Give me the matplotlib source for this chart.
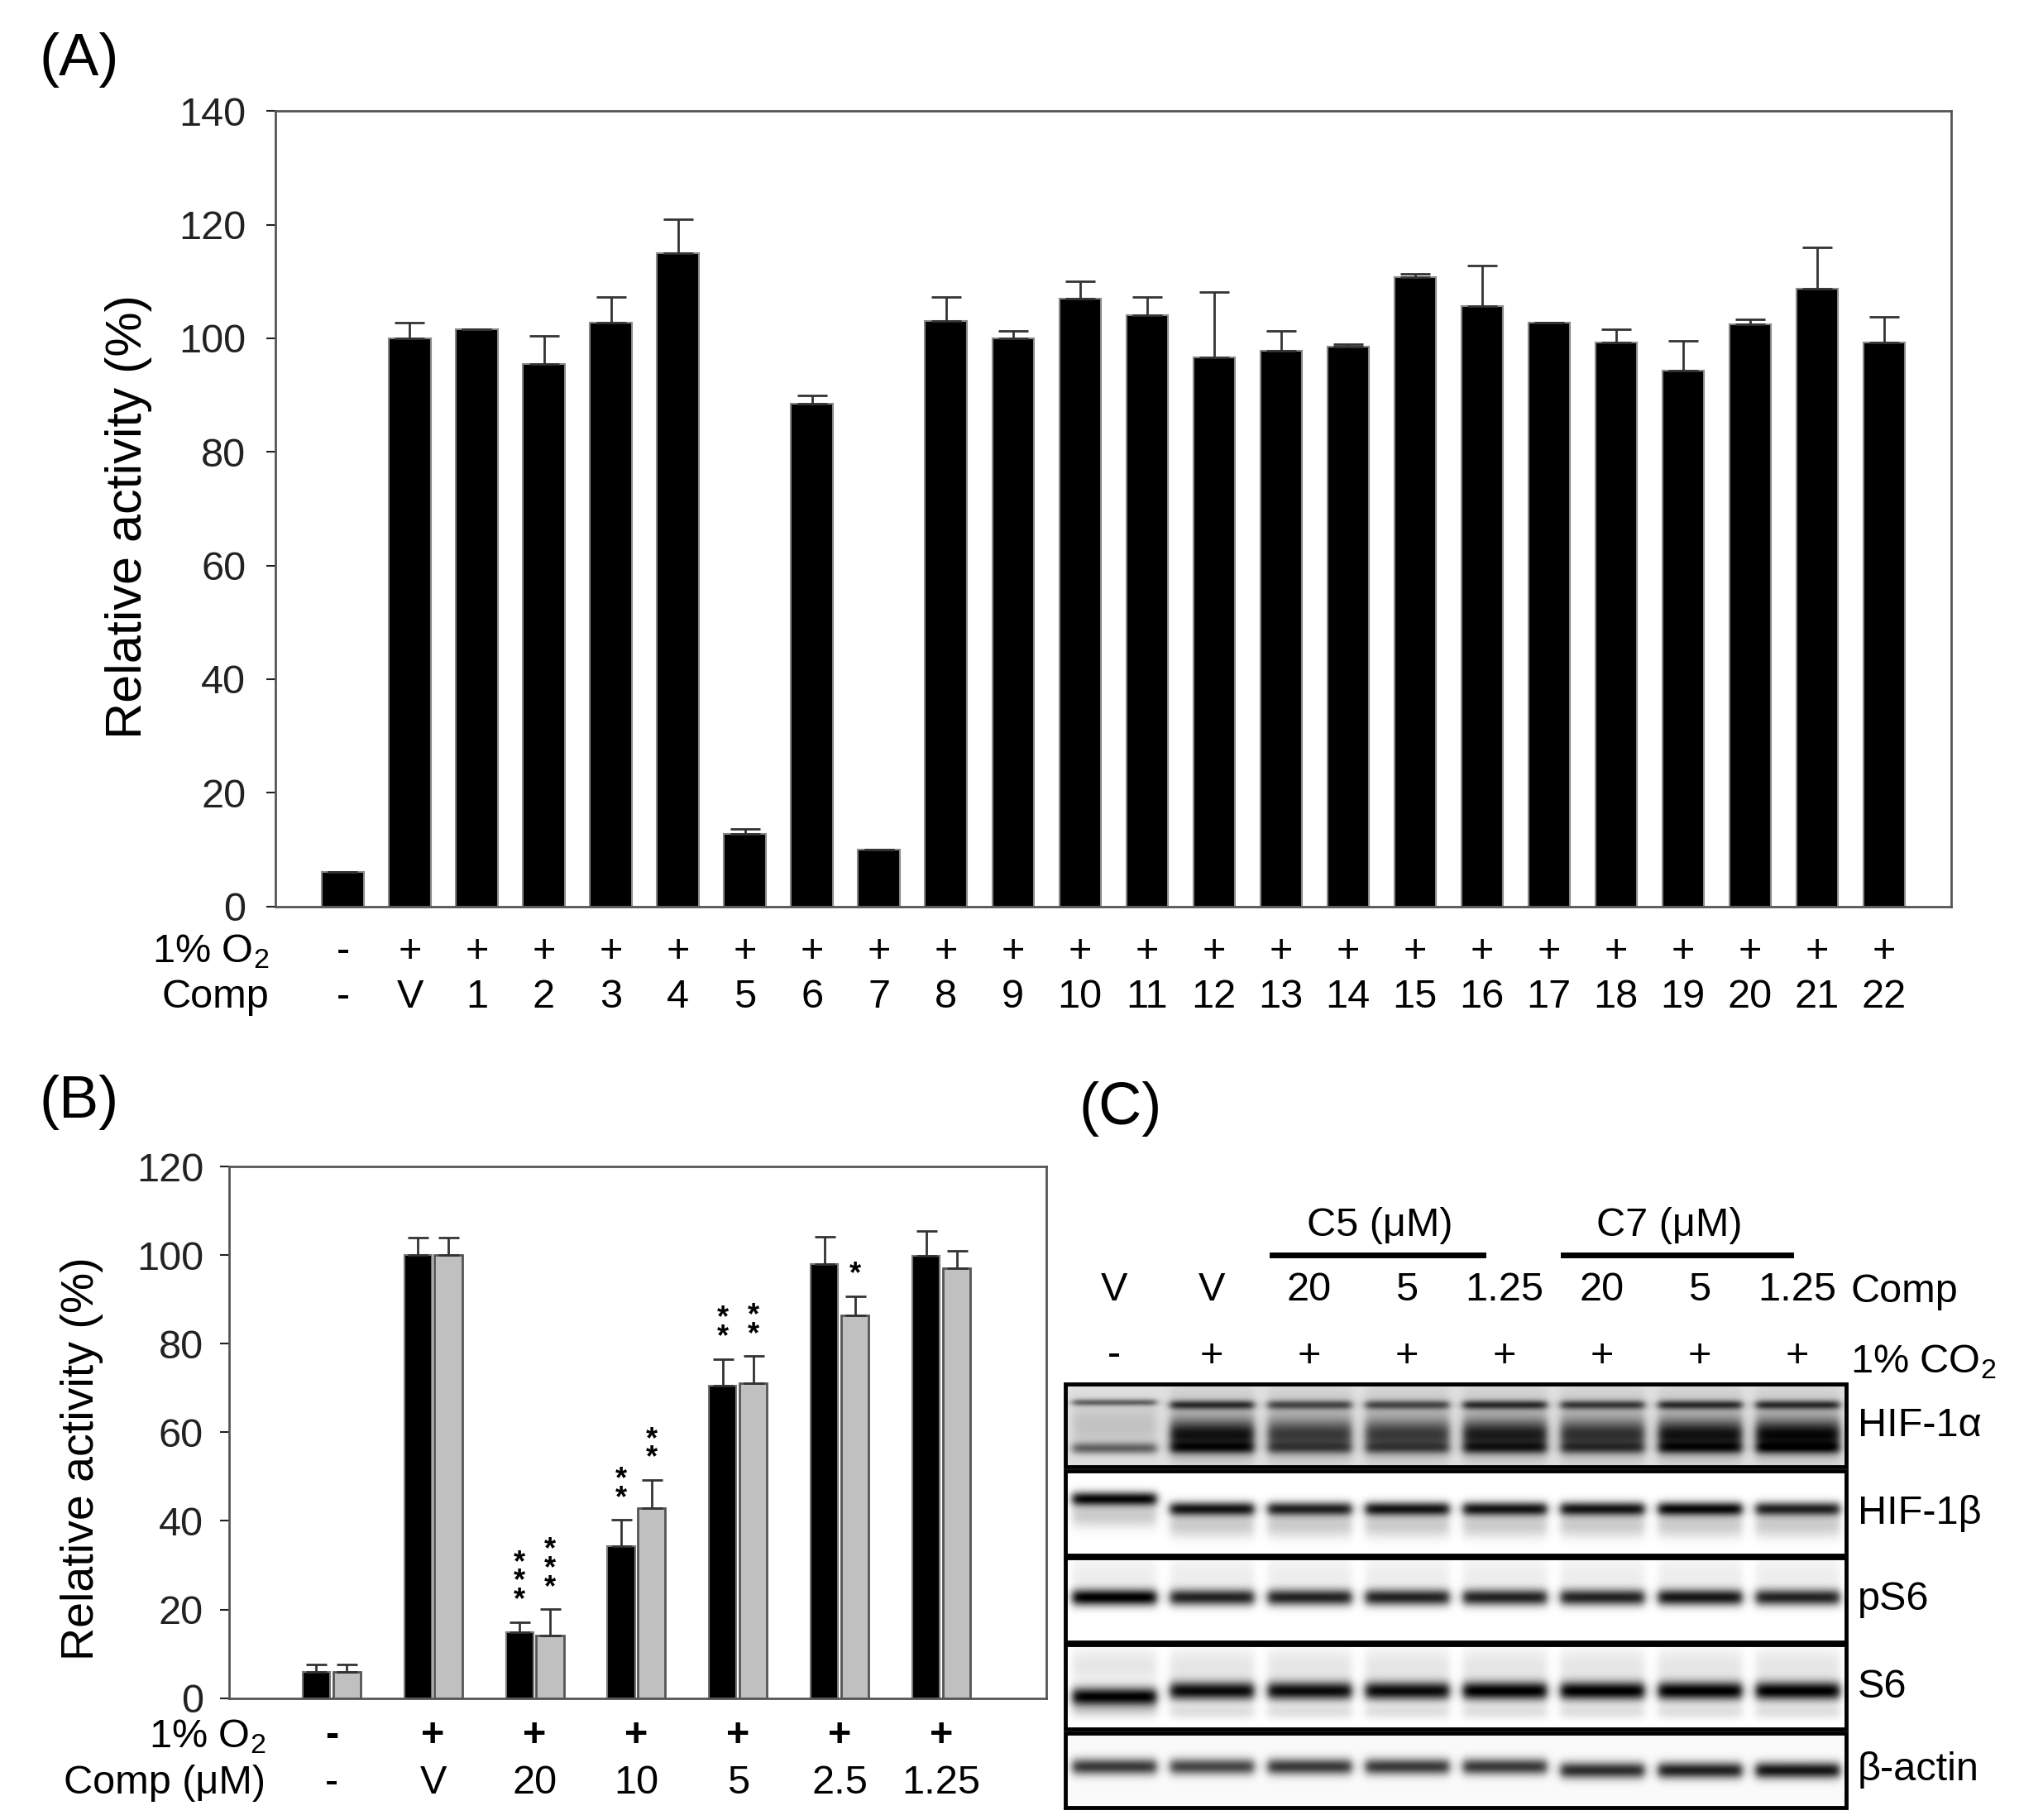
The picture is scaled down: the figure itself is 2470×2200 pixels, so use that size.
import numpy as np
import matplotlib
matplotlib.use("Agg")
import matplotlib.pyplot as plt

plt.rcParams['font.family'] = ['Liberation Sans', 'DejaVu Sans']
plt.rcParams['mathtext.fontset'] = 'custom'
plt.rcParams['mathtext.rm'] = 'Liberation Sans'
plt.rcParams['mathtext.it'] = 'Liberation Sans'

# ---- panel A data ----
comp_a = ['-', 'V'] + [str(i) for i in range(1, 23)]
o2_a = ['-'] + ['+'] * 23
vals_a = [6, 100, 101.6, 95.4, 102.7, 115, 12.7, 88.5, 10, 103, 100, 107, 104,
          96.7, 97.8, 98.5, 110.7, 105.7, 102.8, 99.3, 94.3, 102.4, 108.7, 99.3]
err_a = [0, 2.8, 0, 5, 4.6, 5.9, 0.9, 1.5, 0, 4.3, 1.3, 3, 3.3,
         11.5, 3.5, 0.5, 0.6, 7.1, 0, 2.3, 5.3, 1, 7.3, 4.5]

# ---- panel B data ----
comp_b = ['-', 'V', '20', '10', '5', '2.5', '1.25']
o2_b = ['-', '+', '+', '+', '+', '+', '+']
black_b = [5.9, 100, 14.8, 34.3, 70.6, 98, 99.8]
black_err = [1.6, 4, 2.4, 5.9, 6, 6.2, 5.6]
grey_b = [5.9, 100, 14.2, 42.8, 71.1, 86.5, 97.1]
grey_err = [1.6, 4, 5.9, 6.5, 6.2, 4.3, 3.9]
stars_black = ['', '', '***', '**', '**', '', '']
stars_grey = ['', '', '***', '**', '**', '*', '']

# ---- panel C (blot) data ----
lane_comp = ['V', 'V', '20', '5', '1.25', '20', '5', '1.25']
lane_co2 = ['-', '+', '+', '+', '+', '+', '+', '+']
proteins = ['HIF-1α', 'HIF-1β', 'pS6', 'S6', 'β-actin']
hif1a_top = [0.45, 0.6, 0.5, 0.5, 0.6, 0.55, 0.6, 0.6]
hif1a_low = [0.45, 0.85, 0.65, 0.65, 0.8, 0.7, 0.85, 0.9]
hif1b = [0.95, 0.9, 0.85, 0.9, 0.9, 0.9, 0.95, 0.85]
ps6 = [1.0, 0.85, 0.85, 0.85, 0.85, 0.85, 0.9, 0.85]
s6 = [1.0, 0.95, 0.95, 0.95, 1.0, 1.0, 1.0, 1.0]
bactin = [0.75, 0.7, 0.75, 0.75, 0.75, 0.8, 0.85, 0.9]

fig = plt.figure(figsize=(24.7, 22), dpi=100)
edge = '#555555'
fs = 35

# ================= panel A =================
axA = fig.add_axes([0.135, 0.502, 0.82, 0.437])
xa = np.arange(len(vals_a))
axA.bar(xa, vals_a, width=0.62, color='black', edgecolor='#888888', linewidth=1.5, zorder=2)
axA.errorbar(xa, vals_a, yerr=[np.zeros(len(err_a)), err_a], fmt='none',
             ecolor='#333333', elinewidth=2, capsize=13, capthick=2, zorder=3)
axA.set_xlim(-1, 24)
axA.set_ylim(0, 140)
axA.set_yticks(range(0, 141, 20))
axA.set_xticks([])
axA.tick_params(axis='y', direction='out', length=8, width=1.5, labelsize=fs,
                colors='#222222', pad=18)
for s in axA.spines.values():
    s.set_color(edge)
    s.set_linewidth(2)
axA.set_ylabel('Relative activity (%)', fontsize=44)
axA.yaxis.set_label_coords(-0.074, 0.49)
trA = axA.get_xaxis_transform()
for i in range(len(vals_a)):
    axA.text(i, -0.057, o2_a[i], transform=trA, ha='center', va='center', fontsize=fs)
    axA.text(i, -0.114, comp_a[i], transform=trA, ha='center', va='center', fontsize=fs)
axA.text(-0.004, -0.057, '1% O$_2$', transform=axA.transAxes, ha='right', va='center', fontsize=fs)
axA.text(-0.004, -0.114, 'Comp', transform=axA.transAxes, ha='right', va='center', fontsize=fs)

# ================= panel B =================
axB = fig.add_axes([0.112, 0.067, 0.40, 0.292])
xb = np.arange(len(black_b))
off = 0.15
w = 0.27
axB.bar(xb - off, black_b, width=w, color='black', edgecolor='#777777', linewidth=1.5, zorder=2)
axB.bar(xb + off, grey_b, width=w, color='#c0c0c0', edgecolor='#555555', linewidth=2, zorder=2)
axB.errorbar(xb - off, black_b, yerr=[np.zeros(7), black_err], fmt='none',
             ecolor='#333333', elinewidth=2, capsize=9, capthick=2, zorder=3)
axB.errorbar(xb + off, grey_b, yerr=[np.zeros(7), grey_err], fmt='none',
             ecolor='#333333', elinewidth=2, capsize=9, capthick=2, zorder=3)
for i in range(7):
    if stars_black[i]:
        axB.text(i - off, black_b[i] + black_err[i] + 1.5, '\n'.join(stars_black[i]),
                 ha='center', va='bottom', fontsize=26, linespacing=0.55, fontweight='bold')
    if stars_grey[i]:
        axB.text(i + off, grey_b[i] + grey_err[i] + 1.5, '\n'.join(stars_grey[i]),
                 ha='center', va='bottom', fontsize=26, linespacing=0.55, fontweight='bold')
axB.set_xlim(-1.01, 7.03)
axB.set_ylim(0, 120)
axB.set_yticks(range(0, 121, 20))
axB.set_xticks([])
axB.tick_params(axis='y', direction='out', length=8, width=1.5, labelsize=fs,
                colors='#222222', pad=14)
for s in axB.spines.values():
    s.set_color(edge)
    s.set_linewidth(2)
axB.set_ylabel('Relative activity (%)', fontsize=40)
axB.yaxis.set_label_coords(-0.153, 0.45)
trB = axB.get_xaxis_transform()
for i in range(7):
    axB.text(i, -0.072, o2_b[i], transform=trB, ha='center', va='center', fontsize=fs, fontweight='bold')
    axB.text(i, -0.16, comp_b[i], transform=trB, ha='center', va='center', fontsize=fs)
axB.text(0.045, -0.072, '1% O$_2$', transform=axB.transAxes, ha='right', va='center', fontsize=fs)
axB.text(0.045, -0.16, 'Comp (μM)', transform=axB.transAxes, ha='right', va='center', fontsize=fs)

# ================= panel C (blot) =================
axC = fig.add_axes([0, 0, 1, 1], zorder=-1)
axC.set_xlim(0, 2470)
axC.set_ylim(2200, 0)
axC.axis('off')

box_l, box_r = 1288, 2232
lane_w = (box_r - box_l) / 8
lane_x = [box_l + (i + 0.5) * lane_w for i in range(8)]
boxes = [(1673, 1773), (1778, 1880), (1883, 1985), (1988, 2090), (2095, 2185)]


def lane_mask(xx, cx, half):
    return 1.0 / (1 + np.exp((np.abs(xx - cx) - half) / 3.0))


def blot_image(top, bot, bands, bg=0.0):
    h = int(bot - top)
    wpx = int(box_r - box_l)
    xx = np.arange(wpx) + box_l
    yy = np.linspace(0, 1, h)[:, None]
    dark = np.full((h, wpx), bg)
    for i in range(8):
        m = lane_mask(xx, lane_x[i], lane_w * 0.43)[None, :]
        for (yc, sig, amp) in bands[i]:
            dark = dark + m * amp * np.exp(-0.5 * ((yy - yc) / sig) ** 2)
    return 1 - np.clip(dark, 0, 1)


band_sets = []
# HIF-1a
b = []
for i in range(8):
    if i == 0:
        b.append([(0.22, 0.03, hif1a_top[i]), (0.78, 0.05, hif1a_low[i]), (0.5, 0.2, 0.12)])
    else:
        b.append([(0.25, 0.04, hif1a_top[i]), (0.62, 0.13, hif1a_low[i] * 0.8),
                  (0.78, 0.05, hif1a_low[i] * 0.5), (0.5, 0.3, 0.15)])
band_sets.append((b, 0.12))
# HIF-1b
b = []
for i in range(8):
    yc = 0.33 if i == 0 else 0.45
    b.append([(yc, 0.06, hif1b[i]), (yc + 0.2, 0.1, 0.2)])
band_sets.append((b, 0.0))
# pS6
b = []
for i in range(8):
    b.append([(0.47, 0.07, ps6[i]), (0.2, 0.15, 0.07)])
band_sets.append((b, 0.0))
# S6
b = []
for i in range(8):
    yc = 0.62 if i == 0 else 0.55
    b.append([(yc, 0.08, s6[i]), (0.25, 0.15, 0.1), (0.8, 0.06, 0.12)])
band_sets.append((b, 0.0))
# b-actin
b = []
for i in range(8):
    yc = 0.45 if i < 5 else 0.5
    b.append([(yc, 0.08, bactin[i])])
band_sets.append((b, 0.02))

for (top, bot), (bands, bg), name in zip(boxes, band_sets, proteins):
    img = blot_image(top, bot, bands, bg)
    axC.imshow(img, cmap='gray', vmin=0, vmax=1, extent=(box_l, box_r, bot, top),
               aspect='auto', interpolation='bilinear')
    axC.add_patch(plt.Rectangle((box_l, top), box_r - box_l, bot - top, fill=False,
                                edgecolor='black', linewidth=3.5))
    axC.text(2246, (top + bot) / 2, name, ha='left', va='center', fontsize=fs)

# header rows
for i in range(8):
    axC.text(lane_x[i], 1559, lane_comp[i], ha='center', va='center', fontsize=fs)
    axC.text(lane_x[i], 1639, lane_co2[i], ha='center', va='center', fontsize=fs)
axC.text(2237, 1561, 'Comp', ha='left', va='center', fontsize=fs)
axC.text(2237, 1646, '1% CO$_2$', ha='left', va='center', fontsize=fs)
axC.plot([1538, 1793], [1517, 1517], color='black', linewidth=5)
axC.plot([1890, 2165], [1517, 1517], color='black', linewidth=5)
axC.text(1668, 1482, 'C5 (μM)', ha='center', va='center', fontsize=fs)
axC.text(2018, 1482, 'C7 (μM)', ha='center', va='center', fontsize=fs)

# panel labels
fig.text(96 / 2470, 1 - 72 / 2200, '(A)', ha='center', va='center', fontsize=52)
fig.text(96 / 2470, 1 - 1332 / 2200, '(B)', ha='center', va='center', fontsize=52)
fig.text(1355 / 2470, 1 - 1340 / 2200, '(C)', ha='center', va='center', fontsize=52)

fig.savefig('out.png', dpi=100)
plt.close(fig)
